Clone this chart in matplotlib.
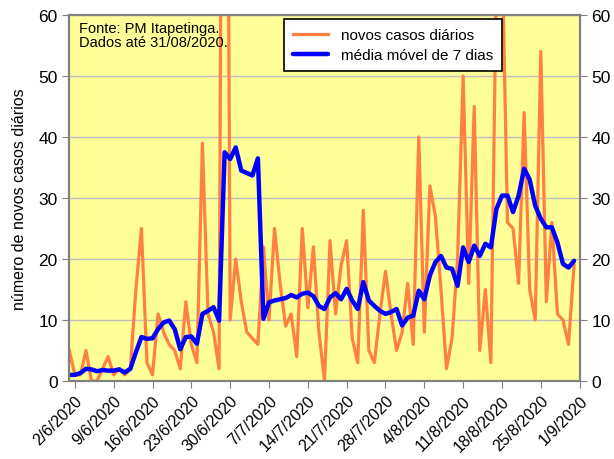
import matplotlib

matplotlib.use("Agg")
import matplotlib.pyplot as plt
import pandas as pd

# casos diários de 1/6/2020 a 31/8/2020
novos_casos = [
    5, 1, 1, 5, 0, 0, 2, 4, 1, 2, 1, 2, 15, 25, 3, 1, 11, 8, 6, 5,
    2, 13, 6, 3, 39, 11, 8, 2, 205, 10, 20, 13, 8, 7, 6, 22, 10, 25, 16, 9,
    11, 4, 25, 12, 22, 8, 0, 23, 11, 19, 23, 7, 3, 28, 5, 3, 11, 18, 11, 5,
    8, 16, 6, 40, 8, 32, 27, 15, 2, 7, 20, 50, 16, 45, 5, 15, 3, 67, 72, 26,
    25, 16, 44, 15, 10, 54, 13, 26, 11, 10, 6, 19,
]
media_movel = [
    1.0, 1.0, 1.3, 2.0, 1.9, 1.6, 1.8, 1.7, 1.7, 1.9, 1.4, 2.0, 4.7, 7.2, 6.9, 7.0,
    8.5, 9.6, 9.9, 8.5, 5.2, 7.2, 7.3, 6.1, 11.0, 11.5, 12.1, 9.9, 37.5, 36.4, 38.3,
    34.5, 34.1, 33.7, 36.5, 10.2, 12.9, 13.2, 13.4, 13.6, 14.1, 13.7, 14.3, 14.5,
    13.9, 12.3, 11.8, 13.7, 14.4, 13.4, 15.1, 13.2, 11.8, 16.2, 13.2, 12.3, 11.5,
    11.0, 11.3, 11.8, 9.1, 10.4, 10.7, 14.8, 13.4, 17.3, 19.5, 20.5, 18.6, 18.4,
    15.6, 21.9, 19.5, 22.2, 20.5, 22.5, 21.9, 28.2, 30.4, 30.4, 27.7, 30.4, 34.8,
    33.0, 28.7, 26.6, 25.2, 25.2, 22.7, 19.2, 18.6, 19.7,
]
datas = pd.date_range("2020-06-01", periods=len(novos_casos), freq="D")
ticks = pd.date_range("2020-06-02", "2020-09-01", freq="7D")
tick_labels = [f"{d.day}/{d.month}/{d.year}" for d in ticks]

plt.rcParams["font.family"] = ["Liberation Sans", "DejaVu Sans"]

fig = plt.figure(figsize=(6.14, 4.6), dpi=100)
ax = fig.add_axes([0.1129, 0.1696, 0.8311, 0.7955])
ax.set_facecolor("#FFFF99")

ax.plot(datas, novos_casos, color="#FF8040", lw=2.3, label="novos casos diários",
        solid_joinstyle="round")
ax.plot(datas, media_movel, color="#0000FF", lw=3.2, label="média móvel de 7 dias",
        solid_joinstyle="round", solid_capstyle="round")

ax.set_ylim(0, 60)
ax.set_yticks(range(0, 61, 10))
ax.set_xlim(pd.Timestamp("2020-06-01"), pd.Timestamp("2020-09-01"))
ax.set_xticks(ticks)
ax.set_xticklabels(tick_labels, rotation=45, ha="right", rotation_mode="anchor",
                   fontsize=11.5)
ax.tick_params(axis="y", labelsize=12.5, direction="out", length=5, color="#808080")
ax.tick_params(axis="x", direction="out", length=5, color="#808080")
ax.yaxis.grid(True, color="#BEBEBE", lw=1)
ax.set_axisbelow(True)
for s in ax.spines.values():
    s.set_color("#808080")
    s.set_linewidth(1.5)

ax2 = ax.twinx()
ax2.set_ylim(0, 60)
ax2.set_yticks(range(0, 61, 10))
ax2.tick_params(axis="y", labelsize=12.5, direction="out", length=5, color="#808080")
for s in ax2.spines.values():
    s.set_color("#808080")
    s.set_linewidth(1.5)

ax.set_ylabel("número de novos casos diários", fontsize=11.5, labelpad=8)

ax.text(0.018, 0.985, "Fonte: PM Itapetinga.\nDados até 31/08/2020.",
        transform=ax.transAxes, fontsize=10.5, va="top", ha="left", linespacing=1.05)

leg = ax.legend(loc="upper left", bbox_to_anchor=(0.421, 0.99), borderaxespad=0,
                fontsize=11, fancybox=False, framealpha=1, edgecolor="black",
                handlelength=2.3, borderpad=0.6, labelspacing=0.4)
leg.get_frame().set_linewidth(1.2)

fig.savefig("out.png", dpi=100)
